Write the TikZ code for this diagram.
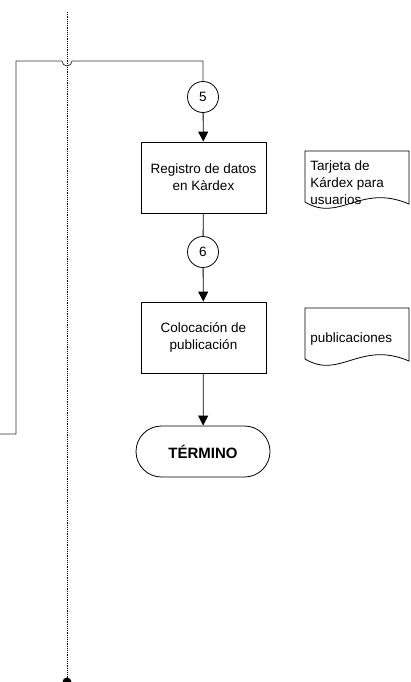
\documentclass[tikz,border=0pt]{standalone}
\usepackage{fontspec}
\setmainfont{Liberation Sans}
\usetikzlibrary{arrows.meta}
\begin{document}
\begin{tikzpicture}[x=1pt,y=-1pt,line width=0.8pt,
  txt/.style={font=\fontsize{13.5}{17}\selectfont,inner sep=0pt,align=center},
  procbox/.style={draw,txt,minimum width=125pt,minimum height=71pt},
  conn/.style={draw,circle,txt,minimum size=31pt},
  term/.style={draw,txt,font=\fontsize{15}{17}\selectfont\bfseries,minimum width=134pt,minimum height=51pt,rounded corners=25.5pt},
  doctxt/.style={txt,align=left,anchor=base west},
  arr/.style={-{Triangle[width=10pt,length=10pt]}},
  lane/.style={line width=0.7pt,dash pattern=on 1.2pt off 1pt}]
\useasboundingbox (0,0) rectangle (410,682);
% swimlane divider
\draw[lane] (67,12) -- (67,678);
\fill (67,682) circle (4.5pt);
% nodes
\node[conn] (c5) at (203,97) {5};
\node[procbox] (b1) at (203.5,177.5) {Registro de datos\\en Kàrdex};
\node[conn] (c6) at (203,252) {6};
\node[procbox] (b2) at (203.5,337.5) {Colocación de\\publicación};
\node[term] (t) at (203,451.5) {TÉRMINO};
% documents
\draw (305,151) -- (409,151) -- (409,204) .. controls (360,183) and (340,223) .. (305,202) -- cycle;
\node[doctxt] (d1) at (310,204) {Tarjeta de\\Kárdex para\\usuarios};
\draw (305,308) -- (409,308) -- (409,361) .. controls (360,340) and (340,380) .. (305,359) -- cycle;
\node[doctxt] (d2) at (310,342) {publicaciones};
% connectors
\coordinate (start) at (0,434);
\coordinate (corner) at (16,434);
\coordinate (top) at (16,61);
\draw[draw=black!80] (start) -- (corner) -- (top) -- (62,61) arc[start angle=180,end angle=0,radius=5] -- (c5.north |- top) -- (c5.north);
\draw[arr] (c5) -- (b1);
\draw (b1) -- (c6);
\draw[arr] (c6) -- (b2);
\draw[arr] (b2) -- (t);
\end{tikzpicture}
\end{document}
